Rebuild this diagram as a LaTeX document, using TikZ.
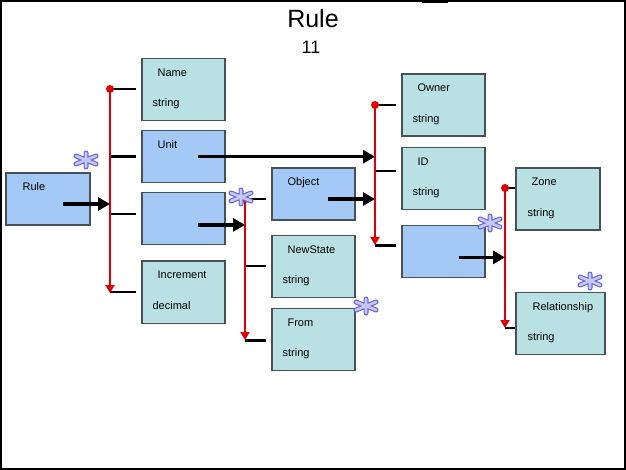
\documentclass[tikz,border=0pt]{standalone}
\usepackage{fontspec}
\setmainfont{Liberation Sans}
\usepackage{tikz}
\usetikzlibrary{arrows.meta, positioning}

\definecolor{entblue}{RGB}{164,201,246}
\definecolor{attrteal}{RGB}{185,225,227}
\definecolor{boxline}{RGB}{72,82,86}
\definecolor{busred}{RGB}{222,0,0}
\definecolor{starfill}{RGB}{200,200,248}
\definecolor{starline}{RGB}{104,104,218}

\tikzset{
  box/.style={draw=boxline, line width=1.2pt, minimum width=83pt, minimum height=62pt, inner sep=0pt},
  entity/.style={box, fill=entblue, minimum height=52pt},
  attr/.style={box, fill=attrteal},
  lbl/.style={anchor=base west, inner sep=0pt, font=\fontsize{11}{13}\selectfont},
  bus/.style={busred, line width=2pt, -{Triangle[length=8pt,width=9pt]}},
  branch/.style={black, line width=2.6pt, shorten >=5pt},
  feed/.style={black, line width=3.5pt, -{Triangle[length=12pt,width=13pt]}},
  manystar/.pic={
    \draw[starline, line width=5pt, line cap=round] (0,7) -- (0,-7) (-10,4) -- (10,-4) (-10,-4) -- (10,4);
    \draw[starfill, line width=2.6pt, line cap=round] (0,7) -- (0,-7) (-10,4) -- (10,-4) (-10,-4) -- (10,4);
  }
}

\begin{document}
\begin{tikzpicture}[x=1pt, y=1pt]
  \useasboundingbox (0,0) rectangle (626,-470);
  \draw[line width=2pt] (1,-1) rectangle (625,-469);
  \fill (422,0) rectangle (448,-3);

  \node[font=\fontsize{25}{30}\selectfont, anchor=base] (title) at (313,-28) {Rule};
  \node[font=\fontsize{18}{22}\selectfont, anchor=base] (count) at (311,-54) {11};

  % boxes
  \node[entity, minimum width=84pt] (rule) at (48,-199) {};
  \node[attr] (name) at (183.5,-89.5) {};
  \node[entity] (unit) [below=9pt of name] {};
  \node[entity] (blankA) [below=9pt of unit] {};
  \node[attr] (incr) [below=15pt of blankA] {};

  \node[entity] (object) at (313.5,-194) {};
  \node[attr] (newstate) [below=14pt of object] {};
  \node[attr] (from) [below=10pt of newstate] {};

  \node[attr] (owner) at (443.5,-105) {};
  \node[attr] (id) [below=10pt of owner] {};
  \node[entity] (blankB) [below=15pt of id] {};

  \node[attr, minimum width=84pt] (zone) at (558,-199) {};
  \node[attr, minimum width=89pt] (rel) at (560.5,-323.5) {};

  % texts
  \node[lbl] (rule t) at ([shift={(17,-18.5)}]rule.north west) {Rule};
  \node[lbl] (name t) at ([shift={(16,-18.5)}]name.north west) {Name};
  \node[lbl] (name s) at ([shift={(11,-49)}]name.north west) {string};
  \node[lbl] (unit t) at ([shift={(16,-18.5)}]unit.north west) {Unit};
  \node[lbl] (incr t) at ([shift={(16,-18.5)}]incr.north west) {Increment};
  \node[lbl] (incr s) at ([shift={(11,-49)}]incr.north west) {decimal};
  \node[lbl] (object t) at ([shift={(16,-18.5)}]object.north west) {Object};
  \node[lbl] (newstate t) at ([shift={(16,-18.5)}]newstate.north west) {NewState};
  \node[lbl] (newstate s) at ([shift={(11,-49)}]newstate.north west) {string};
  \node[lbl] (from t) at ([shift={(16,-18.5)}]from.north west) {From};
  \node[lbl] (from s) at ([shift={(11,-49)}]from.north west) {string};
  \node[lbl] (owner t) at ([shift={(16,-18.5)}]owner.north west) {Owner};
  \node[lbl] (owner s) at ([shift={(11,-49)}]owner.north west) {string};
  \node[lbl] (id t) at ([shift={(16,-18.5)}]id.north west) {ID};
  \node[lbl] (id s) at ([shift={(11,-49)}]id.north west) {string};
  \node[lbl] (zone t) at ([shift={(16,-18.5)}]zone.north west) {Zone};
  \node[lbl] (zone s) at ([shift={(12,-49)}]zone.north west) {string};
  \node[lbl] (rel t) at ([shift={(17,-18.5)}]rel.north west) {Relationship};
  \node[lbl] (rel s) at ([shift={(12,-49)}]rel.north west) {string};

  % red buses
  \coordinate (busA top) at (110,-89);
  \coordinate (busA end) at (110,-293);
  \coordinate (busB top) at (245,-199);
  \coordinate (busB end) at (245,-340);
  \coordinate (busC top) at (375,-105);
  \coordinate (busC end) at (375,-245);
  \coordinate (busD top) at (505,-188);
  \coordinate (busD end) at (505,-328);

  % branch ends
  \coordinate (name in) at ([yshift=0.5pt]name.west);
  \coordinate (unit in) at (unit.west);
  \coordinate (blankA in) at ([yshift=5pt]blankA.west);
  \coordinate (incr in) at (incr.west);
  \coordinate (object in) at ([yshift=-5pt]object.west);
  \coordinate (newstate in) at (newstate.west);
  \coordinate (from in) at ([yshift=-1pt]from.west);
  \coordinate (owner in) at (owner.west);
  \coordinate (id in) at ([yshift=7pt]id.west);
  \coordinate (blankB in) at ([yshift=6pt]blankB.west);
  \coordinate (zone in) at ([yshift=11pt]zone.west);
  \coordinate (rel in) at ([yshift=-4.5pt]rel.west);

  \draw[branch] (busA top |- name in) -- (name in);
  \draw[branch] (busA top |- unit in) -- (unit in);
  \draw[branch] (busA top |- blankA in) -- (blankA in);
  \draw[branch] (busA top |- incr in) -- (incr in);
  \draw[branch] (busB top |- object in) -- (object in);
  \draw[branch] (busB top |- newstate in) -- (newstate in);
  \draw[branch] (busB top |- from in) -- (from in);
  \draw[branch] (busC top |- owner in) -- (owner in);
  \draw[branch] (busC top |- id in) -- (id in);
  \draw[branch] (busC top |- blankB in) -- (blankB in);
  \draw[branch, shorten >=0pt] (busD top |- zone in) -- (zone in);
  \draw[branch, shorten >=0pt] (busD top |- rel in) -- (rel in);

  \draw[bus] (busA top) -- (busA end);
  \draw[bus] (busB top) -- (busB end);
  \draw[bus] (busC top) -- (busC end);
  \draw[bus] (busD top) -- (busD end);
  \fill[busred] (busA top) circle (4pt);
  \fill[busred] (busB top) circle (4pt);
  \fill[busred] (busC top) circle (4pt);
  \fill[busred] (busD top) circle (4pt);

  % black arrows
  \coordinate (rule out) at ([shift={(15,-5)}]rule.center);
  \coordinate (unit out) at ([xshift=14.5pt]unit.center);
  \coordinate (blankA out) at ([shift={(14.5,-6)}]blankA.center);
  \coordinate (object out) at ([shift={(14.5,-5)}]object.center);
  \coordinate (blankB out) at ([shift={(15,-6)}]blankB.center);

  \draw[feed] (rule out) -- (rule out -| busA top);
  \draw[feed] (unit out) -- (unit out -| busC top);
  \draw[feed] (blankA out) -- (blankA out -| busB top);
  \draw[feed] (object out) -- (object out -| busC top);
  \draw[feed] (blankB out) -- (blankB out -| busD top);

  % many marks
  \pic (star rule) at (86,-160) {manystar};
  \pic (star blankA) at (241,-197) {manystar};
  \pic (star from) at (366,-306) {manystar};
  \pic (star blankB) at (490,-223) {manystar};
  \pic (star rel) at (590,-281) {manystar};
\end{tikzpicture}
\end{document}
